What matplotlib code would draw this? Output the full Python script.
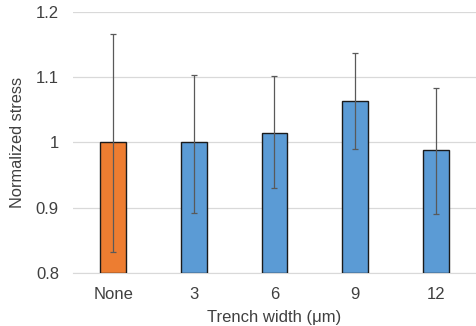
import matplotlib.pyplot as plt
import numpy as np

plt.rcParams['font.family'] = ['Liberation Sans', 'DejaVu Sans']

categories = ['None', '3', '6', '9', '12']
values = [1.000, 1.000, 1.015, 1.063, 0.988]
err_top = [1.167, 1.104, 1.102, 1.137, 1.084]
err_bottom = [0.832, 0.892, 0.930, 0.990, 0.890]
colors = ['#ED7D31', '#5B9BD5', '#5B9BD5', '#5B9BD5', '#5B9BD5']

x = np.arange(len(categories))
vals = np.array(values)
yerr = [vals - np.array(err_bottom), np.array(err_top) - vals]

fig = plt.figure(figsize=(4.76, 3.26), dpi=100)
ax = fig.add_axes([0.153, 0.163, 0.847, 0.80])

ax.bar(x, vals - 0.8, bottom=0.8, width=0.32, color=colors,
       edgecolor='#1a1a1a', linewidth=1.0, zorder=3)
ax.errorbar(x, vals, yerr=yerr, fmt='none', ecolor='#595959',
            elinewidth=0.9, capsize=2.3, capthick=0.9, zorder=4)

ax.set_ylim(0.8, 1.2)
ax.set_xlim(-0.5, 4.5)
ax.set_yticks([0.8, 0.9, 1.0, 1.1, 1.2])
ax.set_yticklabels(['0.8', '0.9', '1', '1.1', '1.2'])
ax.set_xticks(x)
ax.set_xticklabels(categories)
ax.grid(axis='y', color='#d9d9d9', linewidth=0.9, zorder=0)
for s in ['top', 'right', 'left']:
    ax.spines[s].set_visible(False)
ax.spines['bottom'].set_color('#d9d9d9')
ax.tick_params(axis='y', length=0, labelsize=12, colors='#404040', pad=10)
ax.tick_params(axis='x', length=0, labelsize=12, colors='#404040', pad=10)
ax.set_xlabel('Trench width (μm)', fontsize=12, color='#404040', labelpad=6)
ax.set_ylabel('Normalized stress', fontsize=11.8, color='#404040', labelpad=8)

fig.savefig('out.png', dpi=100)
